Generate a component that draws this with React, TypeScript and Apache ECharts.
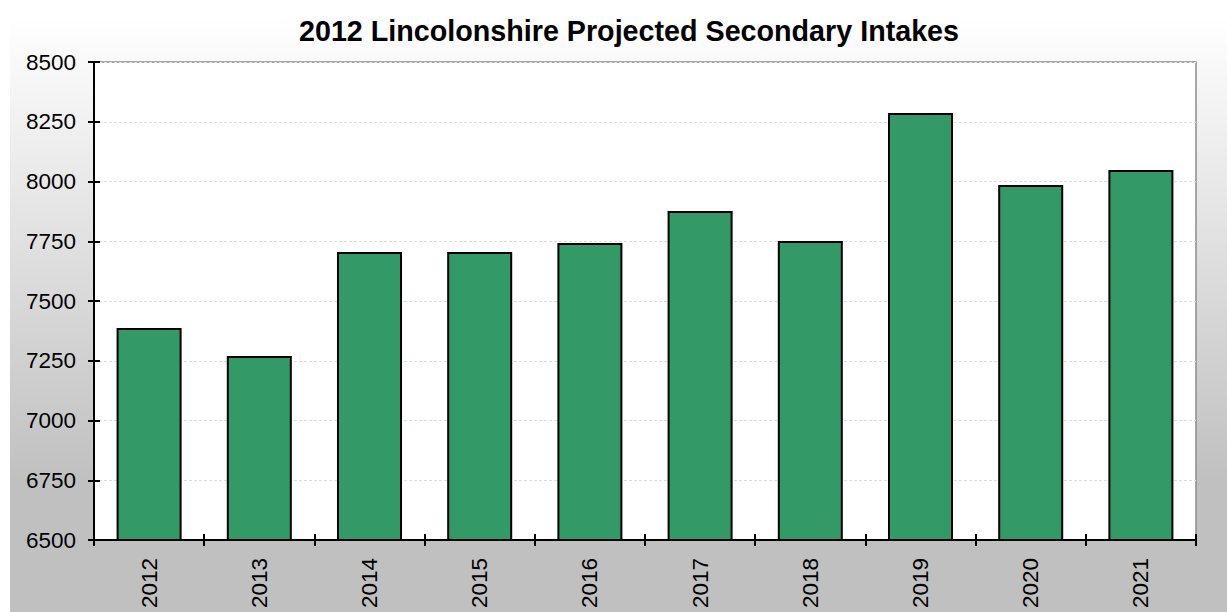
import React, { useEffect, useRef } from "react";
import * as echarts from "echarts";

const titleText = "2012 Lincolonshire Projected Secondary Intakes";
const years = ["2012", "2013", "2014", "2015", "2016", "2017", "2018", "2019", "2020", "2021"];
const intakes = [7387, 7270, 7705, 7705, 7743, 7877, 7751, 8287, 7985, 8048];
const yMin = 6500;
const yMax = 8500;
const yStep = 250;

export default function App() {
  const ref = useRef<HTMLDivElement>(null);
  useEffect(() => {
    if (!ref.current) return;
    const chart = echarts.init(ref.current, null, { renderer: "svg" });
    const font = "Liberation Sans, Arial, sans-serif";
    chart.setOption({
      animation: false,
      backgroundColor: "#ffffff",
      textStyle: { fontFamily: font },
      graphic: [
        {
          type: "rect",
          z: -10,
          silent: true,
          shape: { x: 10, y: 17, width: 1217, height: 595 },
          style: {
            fill: new echarts.graphic.LinearGradient(0, 0, 0, 1, [
              { offset: 0, color: "#ffffff" },
              { offset: 0.78, color: "#c0c0c0" },
              { offset: 1, color: "#c0c0c0" },
            ]),
          },
        },
      ],
      title: {
        text: titleText,
        left: 624,
        top: 11,
        textAlign: "center",
        textStyle: { fontFamily: font, fontWeight: "bold", fontSize: 28.7, color: "#000" },
      },
      grid: {
        left: 94,
        right: 31,
        top: 62,
        bottom: 72,
        show: true,
        backgroundColor: "#ffffff",
        borderColor: "#8c8c8c",
        borderWidth: 1.5,
      },
      xAxis: [
        {
          type: "category",
          data: years,
          axisLine: { lineStyle: { color: "#000", width: 2 } },
          axisTick: { show: true, length: 6, lineStyle: { color: "#000", width: 2 } },
          axisLabel: { rotate: 90, fontSize: 22.5, color: "#000", margin: 18, fontFamily: font },
          splitLine: { show: false },
        },
        {
          type: "category",
          data: years,
          position: "bottom",
          axisLine: { show: false },
          axisTick: { show: true, inside: true, length: 6, lineStyle: { color: "#000", width: 2 } },
          axisLabel: { show: false },
          splitLine: { show: false },
        },
      ],
      yAxis: [
        {
          type: "value",
          min: yMin,
          max: yMax,
          interval: yStep,
          axisLine: { show: true, lineStyle: { color: "#000", width: 2 } },
          axisTick: { show: true, length: 6, lineStyle: { color: "#000", width: 2 } },
          axisLabel: {
            fontSize: 22.5,
            color: "#000",
            margin: 18,
            fontFamily: font,
            formatter: (v: number) => String(v),
          },
          splitLine: { show: true, lineStyle: { color: "#dcdcdc", type: [3, 2], width: 1 } },
        },
        {
          type: "value",
          min: yMin,
          max: yMax,
          interval: yStep,
          position: "left",
          axisLine: { show: false },
          axisTick: { show: true, inside: true, length: 6, lineStyle: { color: "#000", width: 2 } },
          axisLabel: { show: false },
          splitLine: { show: false },
        },
      ],
      series: [
        {
          type: "bar",
          data: intakes,
          barCategoryGap: "41%",
          itemStyle: { color: "#339966", borderColor: "#000", borderWidth: 2 },
        },
      ],
    });
    return () => chart.dispose();
  }, []);
  return (
    <div
      ref={ref}
      style={{ position: "fixed", left: 0, top: 0, width: 1227, height: 612 }}
    />
  );
}
